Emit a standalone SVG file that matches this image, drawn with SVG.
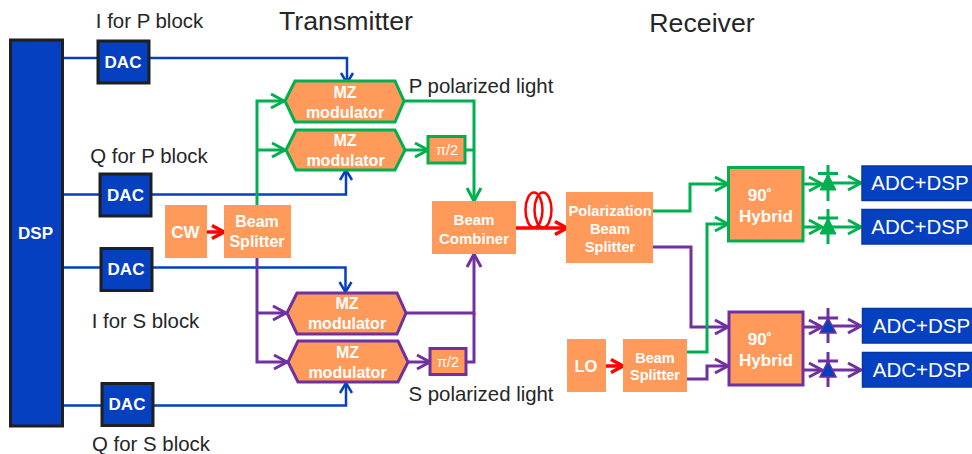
<svg xmlns="http://www.w3.org/2000/svg" width="972" height="454" viewBox="0 0 972 454">
<style>
text{font-family:"Liberation Sans",Arial,sans-serif;text-anchor:middle}
.lab{fill:#262626;font-size:20.4px}
.title{fill:#262626;font-size:26.700px}
.w{fill:#fff;font-weight:bold;font-size:16px}
.d{font-size:17px}
.or{fill:#ff9a5a}
.blk{fill:#0540c0;stroke:#1f1f1f;stroke-width:3}
.adc{fill:#0540c0;stroke:#06379f;stroke-width:1.5}
.g{stroke:#00b050}.p{stroke:#7030a0}
.bl{stroke:#0540c0}.r{stroke:#f00}
.c path{fill:none;stroke-width:3}
.c .bl{stroke-width:2.5}
.c .r{stroke-width:3.5}
.hex{fill:#ff9a5a;stroke-width:3}
.di{stroke-width:3}
</style>
<defs>
<marker id="ag" markerUnits="userSpaceOnUse" markerWidth="20" markerHeight="20" refX="15" refY="10" orient="auto"><path d="M2 3L15 10L2 17" fill="none" stroke="#00b050" stroke-width="3"/></marker>
<marker id="ap" markerUnits="userSpaceOnUse" markerWidth="20" markerHeight="20" refX="15" refY="10" orient="auto"><path d="M2 3L15 10L2 17" fill="none" stroke="#7030a0" stroke-width="3"/></marker>
<marker id="ab" markerUnits="userSpaceOnUse" markerWidth="16" markerHeight="16" refX="12" refY="8" orient="auto"><path d="M2 2L12 8L2 14" fill="none" stroke="#0540c0" stroke-width="2.500"/></marker>
<marker id="ar" markerUnits="userSpaceOnUse" markerWidth="20" markerHeight="20" refX="15" refY="10" orient="auto"><path d="M3 3.500L15 10L3 16.500" fill="none" stroke="#f00" stroke-width="3.500"/></marker>
</defs>

<text class="title" x="346" y="30">Transmitter</text>
<text class="title" x="702" y="32">Receiver</text>
<text class="lab" x="149.500" y="28">I for P block</text>
<text class="lab" x="149" y="163">Q for P block</text>
<text class="lab" x="145.500" y="328">I for S block</text>
<text class="lab" x="151" y="451">Q for S block</text>
<text class="lab" x="481" y="93">P polarized light</text>
<text class="lab" x="481" y="401">S polarized light</text>

<g id="connectors" class="c">
<path class="bl" marker-end="url(#ab)" d="M62 58H347V83"/>
<path class="bl" marker-end="url(#ab)" d="M62 194.500H346V170"/>
<path class="bl" marker-end="url(#ab)" d="M62 267.500H345.500V292"/>
<path class="bl" marker-end="url(#ab)" d="M62 405.500H346V383"/>
<path class="g" marker-end="url(#ag)" d="M257 205V101H284"/>
<path class="g" marker-end="url(#ag)" d="M257 150H285"/>
<path class="p" marker-end="url(#ap)" d="M257 257V362H287"/>
<path class="p" marker-end="url(#ap)" d="M257 313H286"/>
<path class="r" marker-end="url(#ar)" d="M206 232H224"/>
<path class="g" marker-end="url(#ag)" d="M404 101H474V201"/>
<path class="g" marker-end="url(#ag)" d="M405 150H428"/>
<path class="g" d="M466 150H474"/>
<path class="p" marker-end="url(#ap)" d="M406 313H474V254"/>
<path class="p" marker-end="url(#ap)" d="M408 362H430"/>
<path class="p" d="M466 362H474V313"/>
<path class="r" marker-end="url(#ar)" d="M516 228H567"/>
<ellipse cx="534" cy="210" rx="8.500" ry="17.500" fill="none" stroke="#f00" stroke-width="2.500"/>
<ellipse cx="543" cy="210" rx="8.500" ry="17.500" fill="none" stroke="#f00" stroke-width="2.500"/>
<path class="g" marker-end="url(#ag)" d="M653 211H690V184H728"/>
<path class="p" marker-end="url(#ap)" d="M653 247H691V327H728"/>
<path class="r" marker-end="url(#ar)" d="M605 366H623"/>
<path class="g" marker-end="url(#ag)" d="M687 352H707V224H728"/>
<path class="p" marker-end="url(#ap)" d="M687 379H707V366H728"/>
<path class="g" marker-end="url(#ag)" d="M803 184H822"/>
<path class="g" marker-end="url(#ag)" d="M803 227H822"/>
<path class="p" marker-end="url(#ap)" d="M803 327H822"/>
<path class="p" marker-end="url(#ap)" d="M803 370H822"/>
<path class="g" marker-end="url(#ag)" d="M828 183H861"/>
<path class="g" marker-end="url(#ag)" d="M828 227H861"/>
<path class="p" marker-end="url(#ap)" d="M828 326H861"/>
<path class="p" marker-end="url(#ap)" d="M828 370H861"/>
</g>

<g id="dsp"><rect class="blk" x="10.500" y="40" width="52" height="386"/><text class="w d" x="35.500" y="239">DSP</text></g>
<g id="dac1"><rect class="blk" x="98" y="41" width="51" height="42"/><text class="w d" x="123" y="68">DAC</text></g>
<g id="dac2"><rect class="blk" x="100" y="174" width="51" height="42"/><text class="w d" x="125.500" y="201">DAC</text></g>
<g id="dac3"><rect class="blk" x="101" y="248.500" width="51" height="42"/><text class="w d" x="126" y="275">DAC</text></g>
<g id="dac4"><rect class="blk" x="102" y="383.500" width="51" height="42"/><text class="w d" x="127" y="410">DAC</text></g>

<g id="cw"><rect class="or" x="165" y="205" width="42" height="53"/><text class="w d" x="185.500" y="238">CW</text></g>
<g id="splitter1"><rect class="or" x="224" y="205" width="67" height="53"/><text class="w" x="257" y="227">Beam</text><text class="w" x="257" y="247">Splitter</text></g>

<g id="mz1"><path class="hex g" d="M285 101L295 81H395L404 101L395 122H295Z"/><text class="w" x="345" y="98">MZ</text><text class="w" x="345" y="118">modulator</text></g>
<g id="mz2"><path class="hex g" d="M286 150L296 130H395L405 150L395 170H296Z"/><text class="w" x="345" y="146">MZ</text><text class="w" x="345.500" y="166">modulator</text></g>
<g id="mz3"><path class="hex p" d="M287 313L297 293H397L406 313L397 334H297Z"/><text class="w" x="347" y="309">MZ</text><text class="w" x="347" y="329">modulator</text></g>
<g id="mz4"><path class="hex p" d="M288 362L298 341H398L408 362L398 382H298Z"/><text class="w" x="347.500" y="358">MZ</text><text class="w" x="347.500" y="378">modulator</text></g>

<g id="pi1"><rect class="hex g" x="428" y="136.500" width="37" height="26.500"/><text x="447" y="155" fill="#fff" font-size="14.500">π/2</text></g>
<g id="pi2"><rect class="hex p" x="430" y="348.500" width="36" height="26"/><text x="448" y="367" fill="#fff" font-size="14.500">π/2</text></g>

<g id="combiner"><rect class="or" x="432" y="201" width="84" height="53"/><text class="w" x="474" y="225" style="font-size:15px">Beam</text><text class="w" x="474" y="244" style="font-size:15px">Combiner</text></g>
<g id="pbs"><rect class="or" x="566" y="192" width="87" height="71"/><text class="w" x="610" y="216" style="font-size:14.700px">Polarization</text><text class="w" x="610" y="234" style="font-size:14.700px">Beam</text><text class="w" x="610" y="252" style="font-size:14.700px">Splitter</text></g>
<g id="lo"><rect class="or" x="567" y="339" width="39" height="53"/><text class="w" x="586" y="372" style="font-size:16.500px">LO</text></g>
<g id="splitter2"><rect class="or" x="623" y="339" width="64" height="53"/><text class="w" x="655" y="363" style="font-size:14.500px">Beam</text><text class="w" x="655" y="380" style="font-size:14.500px">Splitter</text></g>

<g id="hybrid1"><rect class="hex g" x="728.500" y="167.500" width="74.500" height="73.500"/><text class="w" x="760" y="201" style="font-size:17px">90˚</text><text class="w" x="766" y="222" style="font-size:17px">Hybrid</text></g>
<g id="hybrid2"><rect class="hex p" x="729" y="312" width="74" height="73"/><text class="w" x="760" y="345" style="font-size:17px">90˚</text><text class="w" x="766" y="366" style="font-size:17px">Hybrid</text></g>

<g id="diode1"><path class="di g" d="M828 165V201M818 173.500H838"/><path d="M828 174L820 190H836Z" fill="#00b050" stroke="#00b050"/></g>
<g id="diode2"><path class="di g" d="M828 209V244M818 218H838"/><path d="M828 218L820 234H836Z" fill="#00b050" stroke="#00b050"/></g>
<g id="diode3"><path class="di p" d="M828 308V343M818 318H838"/><path d="M828 318L820 333H836Z" fill="#0540c0" stroke="#7030a0" stroke-width="1.500"/></g>
<g id="diode4"><path class="di p" d="M828 352V387M818 361H838"/><path d="M828 361L820 377H836Z" fill="#0540c0" stroke="#7030a0" stroke-width="1.500"/></g>

<g id="adc1"><rect class="adc" x="862" y="166" width="112" height="34.500"/><text x="920" y="190" fill="#fff" font-size="20.500">ADC+DSP</text></g>
<g id="adc2"><rect class="adc" x="862" y="209.500" width="112" height="34.500"/><text x="920" y="234" fill="#fff" font-size="20.500">ADC+DSP</text></g>
<g id="adc3"><rect class="adc" x="862.500" y="308.500" width="112" height="34.500"/><text x="921.500" y="332.500" fill="#fff" font-size="20.500">ADC+DSP</text></g>
<g id="adc4"><rect class="adc" x="862.500" y="352.500" width="112" height="34.500"/><text x="921.500" y="377" fill="#fff" font-size="20.500">ADC+DSP</text></g>
</svg>
